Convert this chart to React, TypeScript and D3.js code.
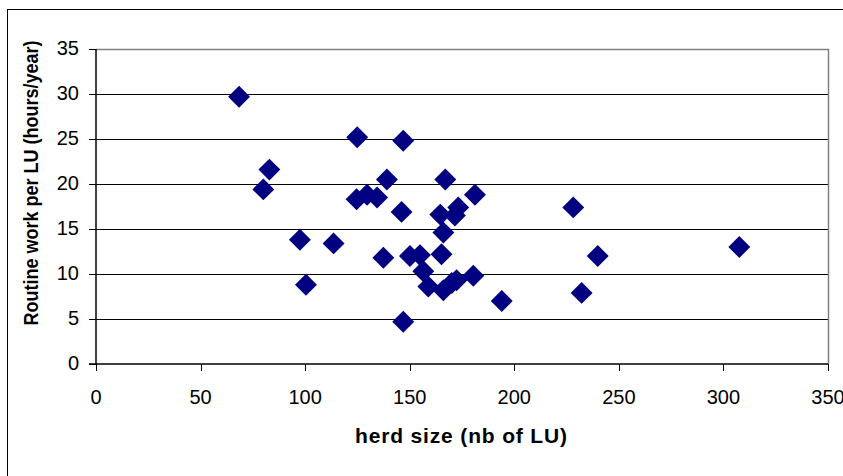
import { useEffect, useRef } from 'react';
import * as d3 from 'd3';

// herd size (nb of LU) and routine work per LU (hours/year), one entry per farm
const herdSize = [
  68.4, 82.9, 80.0, 97.5, 100.4, 113.6, 124.9, 146.9, 139.1, 167.0,
  124.6, 129.6, 134.4, 146.1, 181.2, 173.2, 171.6, 164.6, 166.1, 228.2,
  137.4, 150.1, 154.9, 165.2, 156.5, 158.9, 166.1, 170.1, 172.4, 180.4,
  194.0, 146.9, 239.9, 232.2, 307.6,
];
const routineWork = [
  29.7, 21.6, 19.4, 13.8, 8.8, 13.4, 25.2, 24.8, 20.5, 20.5,
  18.3, 18.8, 18.5, 16.9, 18.8, 17.4, 16.5, 16.6, 14.6, 17.4,
  11.8, 12.0, 12.1, 12.2, 10.3, 8.6, 8.2, 9.0, 9.3, 9.8,
  7.0, 4.7, 12.0, 7.9, 13.0,
];
const xTicks = [0, 50, 100, 150, 200, 250, 300, 350];
const yTicks = [0, 5, 10, 15, 20, 25, 30, 35];

const xTitle = 'herd size (nb of LU)';
const yTitle = 'Routine work per LU (hours/year)';

const W = 843;
const H = 476;

export default function App() {
  const svgRef = useRef<SVGSVGElement | null>(null);

  useEffect(() => {
    const margin = { top: 49, right: 15, bottom: 112, left: 96 };
    const svg = d3.select(svgRef.current).attr('width', W).attr('height', H);
    svg.selectAll('*').remove();

    const x = d3.scaleLinear().domain([0, 350]).range([margin.left, W - margin.right]);
    const y = d3.scaleLinear().domain([0, 35]).range([H - margin.bottom, margin.top]);
    const font = 'Arial, "Liberation Sans", sans-serif';

    // outer chart frame (runs off the right and bottom edges)
    svg.append('rect')
      .attr('x', 7.5).attr('y', 9.5)
      .attr('width', W + 20).attr('height', H + 20)
      .attr('fill', 'white').attr('stroke', '#000').attr('stroke-width', 1);

    // gridlines
    svg.selectAll('.grid')
      .data(yTicks.filter(t => t > 0 && t < 35))
      .enter().append('line')
      .attr('x1', x(0)).attr('x2', x(350))
      .attr('y1', d => Math.round(y(d)) + 0.5).attr('y2', d => Math.round(y(d)) + 0.5)
      .attr('stroke', '#000').attr('stroke-width', 1);

    // plot area border top/right in gray
    svg.append('path')
      .attr('d', `M${x(0)},${y(35) + 0.5}H${x(350) + 0.5}V${y(0)}`)
      .attr('fill', 'none').attr('stroke', '#808080').attr('stroke-width', 1.5);

    // axes
    const axisColor = '#000';
    svg.append('line')
      .attr('x1', x(0)).attr('x2', x(0)).attr('y1', y(35)).attr('y2', y(0))
      .attr('stroke', axisColor).attr('stroke-width', 1.5);
    svg.append('line')
      .attr('x1', x(0) - 7).attr('x2', x(350)).attr('y1', y(0)).attr('y2', y(0))
      .attr('stroke', axisColor).attr('stroke-width', 1.5);

    svg.selectAll('.ytick')
      .data(yTicks)
      .enter().append('line')
      .attr('x1', x(0) - 7).attr('x2', x(0))
      .attr('y1', d => Math.round(y(d)) + 0.5).attr('y2', d => Math.round(y(d)) + 0.5)
      .attr('stroke', axisColor).attr('stroke-width', 1);
    svg.selectAll('.xtick')
      .data(xTicks)
      .enter().append('line')
      .attr('x1', d => Math.round(x(d)) + 0.5).attr('x2', d => Math.round(x(d)) + 0.5)
      .attr('y1', y(0)).attr('y2', y(0) + 7)
      .attr('stroke', axisColor).attr('stroke-width', 1);

    // tick labels
    svg.selectAll('.ylabel')
      .data(yTicks)
      .enter().append('text')
      .attr('x', x(0) - 17)
      .attr('y', d => y(d) + 6)
      .attr('text-anchor', 'end')
      .style('font-family', font).style('font-size', '20px')
      .text(d => d);
    svg.selectAll('.xlabel')
      .data(xTicks)
      .enter().append('text')
      .attr('x', d => x(d))
      .attr('y', 404)
      .attr('text-anchor', 'middle')
      .style('font-family', font).style('font-size', '20px')
      .text(d => d);

    // axis titles
    svg.append('text')
      .attr('x', 461).attr('y', 443)
      .attr('text-anchor', 'middle')
      .attr('textLength', 212)
      .style('font-family', font).style('font-size', '21px').style('font-weight', 'bold')
      .text(xTitle);
    svg.append('text')
      .attr('transform', 'translate(38,183) rotate(-90)')
      .attr('text-anchor', 'middle')
      .attr('textLength', 285)
      .attr('lengthAdjust', 'spacingAndGlyphs')
      .style('font-family', font).style('font-size', '20px').style('font-weight', 'bold')
      .text(yTitle);

    // points (diamonds)
    const diamond = d3.symbol().type(d3.symbolSquare).size(240);
    svg.selectAll('.pt')
      .data(herdSize.map((h, i) => ({ h, w: routineWork[i] })))
      .enter().append('path')
      .attr('d', diamond)
      .attr('transform', d => `translate(${x(d.h)},${y(d.w)}) rotate(45)`)
      .attr('fill', '#000080');
  }, []);

  return <svg ref={svgRef} style={{ position: 'absolute', left: 0, top: 0, display: 'block' }} />;
}
